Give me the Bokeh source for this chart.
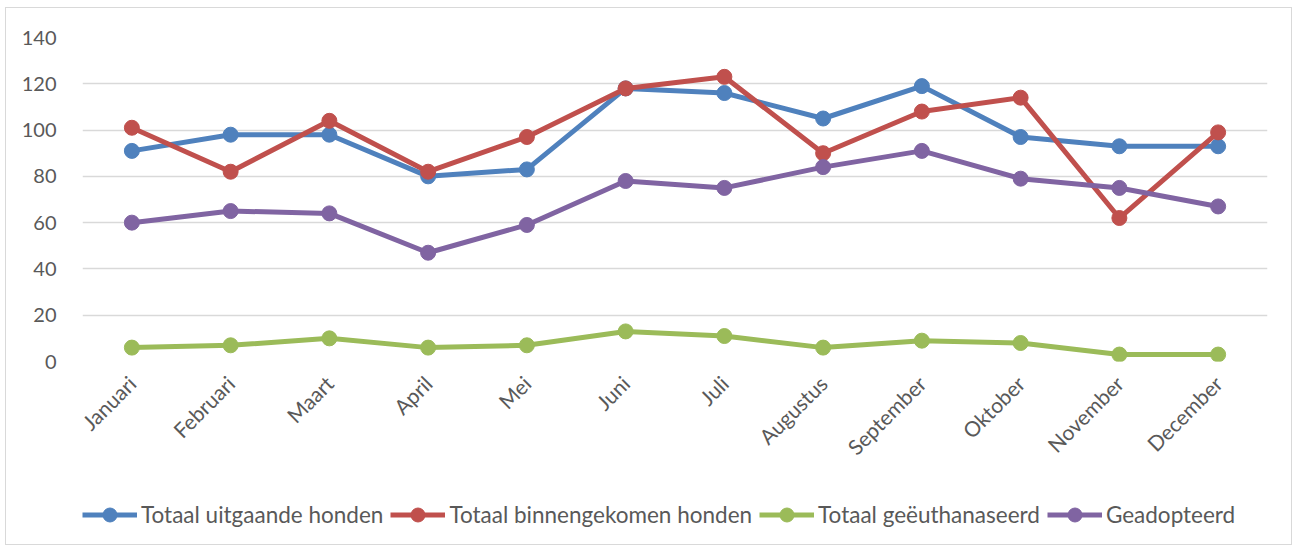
import math
from bokeh.plotting import figure
from bokeh.layouts import column
from bokeh.models import Legend, LegendItem, ColumnDataSource, FixedTicker
from bokeh.embed import file_html
from bokeh.resources import INLINE

months = ["Januari", "Februari", "Maart", "April", "Mei", "Juni", "Juli",
          "Augustus", "September", "Oktober", "November", "December"]
uitgaand = [91, 98, 98, 80, 83, 118, 116, 105, 119, 97, 93, 93]
binnen = [101, 82, 104, 82, 97, 118, 123, 90, 108, 114, 62, 99]
euthanasie = [6, 7, 10, 6, 7, 13, 11, 6, 9, 8, 3, 3]
geadopteerd = [60, 65, 64, 47, 59, 78, 75, 84, 91, 79, 75, 67]

series_names = ["Totaal uitgaande honden", "Totaal binnengekomen honden",
                "Totaal geëuthanaseerd", "Geadopteerd"]
series_values = [uitgaand, binnen, euthanasie, geadopteerd]
colors = ["#4F81BD", "#C0504D", "#9BBB59", "#8064A2"]

FONT = "Lato"
TXT = "#595959"
W = 1285

p = figure(x_range=months, y_range=(0, 140), width=W, height=477,
           output_backend="svg", toolbar_location=None,
           min_border_left=76, min_border_right=24, min_border_top=29, min_border_bottom=124)
p.x_range.range_padding = 0
p.outline_line_color = None
p.border_fill_color = "white"
p.background_fill_color = "white"

p.yaxis.ticker = FixedTicker(ticks=list(range(0, 141, 20)))
p.yaxis.axis_line_color = None
p.yaxis.major_tick_line_color = None
p.yaxis.minor_tick_line_color = None
p.yaxis.major_label_text_font = FONT
p.yaxis.major_label_text_font_size = "20px"
p.yaxis.major_label_text_color = TXT
p.yaxis.major_label_standoff = 20

p.xaxis.axis_line_color = None
p.xaxis.major_tick_line_color = None
p.xaxis.major_label_orientation = math.pi / 4
p.xaxis.major_label_text_font = FONT
p.xaxis.major_label_text_font_size = "21px"
p.xaxis.major_label_text_color = TXT
p.xaxis.major_label_standoff = 12

p.xgrid.grid_line_color = None
p.ygrid.grid_line_color = "#D9D9D9"
p.ygrid.grid_line_width = 1.6

# legend strip as a separate figure (its renderers hold points outside its view)
lg = figure(width=W, height=59, output_backend="svg", toolbar_location=None,
            x_axis_type=None, y_axis_type=None, x_range=(0, 1), y_range=(0, 1),
            min_border_left=0, min_border_right=0, min_border_top=0, min_border_bottom=0)
lg.outline_line_color = None
lg.grid.visible = False

items = []
for name, vals, c in zip(series_names, series_values, colors):
    src = ColumnDataSource(dict(x=months, y=vals))
    p.line("x", "y", source=src, line_color=c, line_width=5)
    p.scatter("x", "y", source=src, size=15, fill_color=c, line_color=c)
    hidden = ColumnDataSource(dict(x=[-5.0, -4.0], y=[-5.0, -5.0]))
    l = lg.line("x", "y", source=hidden, line_color=c, line_width=5)
    s = lg.scatter("x", "y", source=hidden, size=15, fill_color=c, line_color=c)
    items.append(LegendItem(label=name, renderers=[l, s]))

legend = Legend(items=items, orientation="horizontal", location=(0, 12),
                label_text_font=FONT, label_text_font_size="22.5px",
                label_text_color=TXT, glyph_width=55, glyph_height=35,
                spacing=7, label_standoff=4, padding=2, margin=0,
                border_line_color=None, background_fill_alpha=0)
lg.add_layout(legend, "center")

layout = column(p, lg, spacing=0,
                styles={"border": "1px solid #D9D9D9", "margin-left": "5px",
                        "margin-top": "7px", "background": "white"})

html = file_html(layout, INLINE)
open("out.html", "w").write(html)
